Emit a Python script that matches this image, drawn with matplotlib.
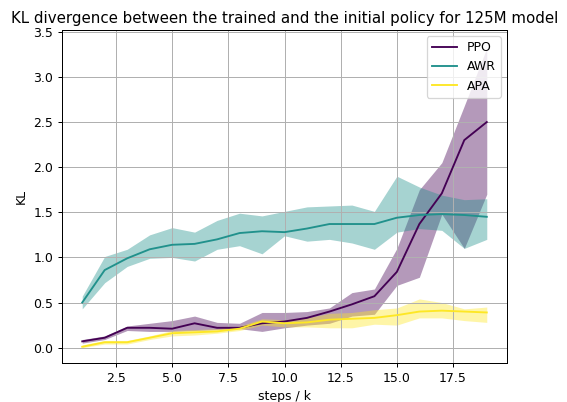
import numpy as np
import matplotlib
matplotlib.use("Agg")
import matplotlib.pyplot as plt

steps = np.arange(1, 20)

ppo_mean = [0.07, 0.11, 0.22, 0.22, 0.21, 0.27, 0.22, 0.22, 0.27, 0.29, 0.33,
            0.40, 0.48, 0.57, 0.84, 1.37, 1.71, 2.30, 2.50]
ppo_upper = [0.09, 0.13, 0.24, 0.27, 0.30, 0.35, 0.28, 0.27, 0.39, 0.39, 0.40,
             0.44, 0.61, 0.65, 1.10, 1.75, 2.05, 2.68, 3.32]
ppo_lower = [0.05, 0.09, 0.19, 0.18, 0.18, 0.19, 0.20, 0.21, 0.18, 0.22, 0.25,
             0.27, 0.35, 0.37, 0.69, 0.78, 1.48, 1.10, 1.70]

awr_mean = [0.50, 0.86, 0.99, 1.09, 1.14, 1.15, 1.20, 1.27, 1.29, 1.28, 1.32,
            1.37, 1.37, 1.37, 1.44, 1.47, 1.48, 1.47, 1.45]
awr_upper = [0.57, 1.01, 1.09, 1.25, 1.33, 1.28, 1.41, 1.49, 1.46, 1.51, 1.56,
             1.57, 1.58, 1.51, 1.90, 1.78, 1.69, 1.64, 1.65]
awr_lower = [0.43, 0.72, 0.90, 0.99, 1.00, 0.96, 1.09, 1.13, 1.04, 1.24, 1.18,
             1.20, 1.16, 1.09, 1.28, 1.32, 1.30, 1.10, 1.20]

apa_mean = [0.01, 0.06, 0.06, 0.11, 0.16, 0.17, 0.18, 0.21, 0.29, 0.27, 0.28,
            0.31, 0.32, 0.33, 0.36, 0.40, 0.41, 0.40, 0.39]
apa_upper = [0.03, 0.08, 0.08, 0.13, 0.19, 0.20, 0.21, 0.24, 0.32, 0.31, 0.33,
             0.38, 0.39, 0.42, 0.44, 0.54, 0.50, 0.43, 0.45]
apa_lower = [0.00, 0.04, 0.04, 0.09, 0.13, 0.14, 0.16, 0.19, 0.25, 0.23, 0.23,
             0.22, 0.22, 0.26, 0.25, 0.33, 0.33, 0.30, 0.28]

series = [
    ("PPO", ppo_mean, ppo_lower, ppo_upper, "#440154"),
    ("AWR", awr_mean, awr_lower, awr_upper, "#21918c"),
    ("APA", apa_mean, apa_lower, apa_upper, "#fde725"),
]

fig = plt.figure(figsize=(567 / 90, 402 / 90), dpi=90)
ax = fig.add_axes([62 / 567, 39 / 402, 445 / 567, 333 / 402])

for name, mean, lo, hi, color in series:
    ax.plot(steps, mean, color=color, label=name)
    ax.fill_between(steps, lo, hi, color=color, alpha=0.4, linewidth=0)

ax.set_xlim(0.1, 19.9)
ax.set_ylim(-0.17, 3.52)
ax.set_title("KL divergence between the trained and the initial policy for 125M model")
ax.set_xlabel("steps / k")
ax.set_ylabel("KL")
ax.grid(True)
ax.legend(loc="upper right")

fig.savefig("out.png", dpi=90)
